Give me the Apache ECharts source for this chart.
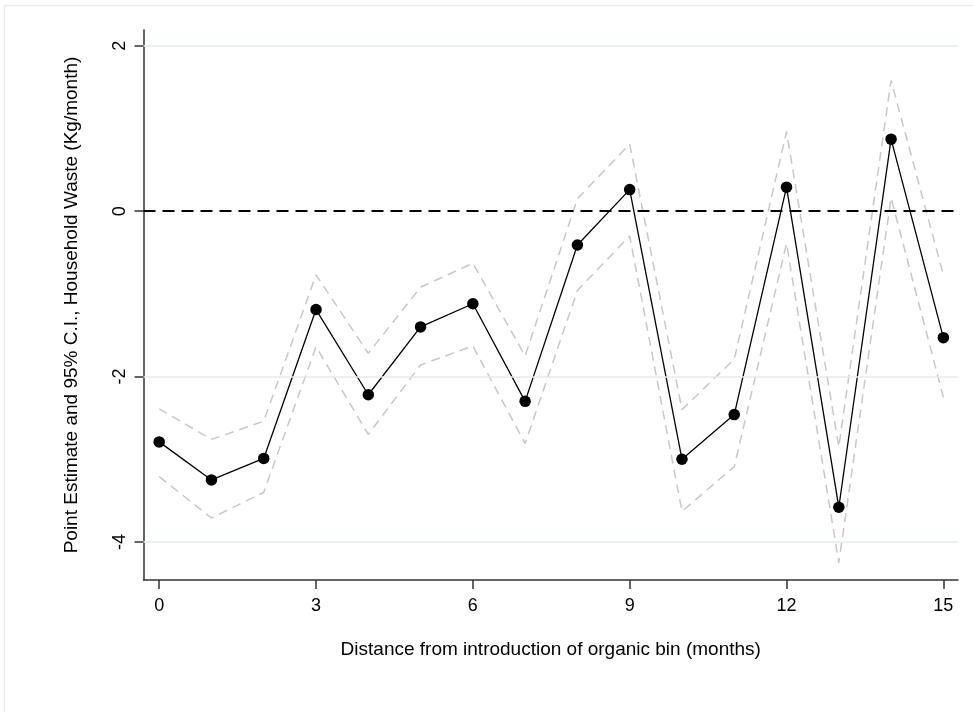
<!DOCTYPE html>
<html>
<head>
<meta charset="utf-8">
<script src="https://cdn.jsdelivr.net/npm/echarts@6/dist/echarts.min.js"></script>
<style>
html,body{margin:0;padding:0;background:#fff;}
#chart{width:973px;height:712px;}
</style>
</head>
<body>
<div id="chart"></div>
<script>
// Data (months since introduction of organic bin)
const months = [0,1,2,3,4,5,6,7,8,9,10,11,12,13,14,15];
const estimate = [-2.79,-3.25,-2.99,-1.19,-2.22,-1.40,-1.12,-2.30,-0.41,0.26,-3.00,-2.46,0.29,-3.58,0.87,-1.53];
const upperCI  = [-2.39,-2.76,-2.54,-0.77,-1.72,-0.92,-0.63,-1.75,0.15,0.81,-2.40,-1.79,0.96,-2.85,1.58,-0.77];
const lowerCI  = [-3.21,-3.71,-3.40,-1.64,-2.70,-1.86,-1.63,-2.81,-0.96,-0.30,-3.63,-3.09,-0.39,-4.25,0.16,-2.25];
const xTicks = [0,3,6,9,12,15];
const yTicks = [-4,-2,0,2];
const gridLines = [-4,-2,2];
const refLine = 0;

const pair = (arr) => months.map((m,i)=>[m,arr[i]]);
const font = '"Liberation Sans", Arial, Helvetica, sans-serif';

const chart = echarts.init(document.getElementById('chart'), null, {renderer:'canvas'});
chart.setOption({
  animation:false,
  backgroundColor:'#ffffff',
  graphic:[{
    type:'rect', silent:true, z:-10,
    shape:{x:4.5,y:5.5,width:1000,height:1000},
    style:{fill:'none',stroke:'#e6edf2',lineWidth:1.5}
  }],
  grid:{left:143.5,right:15,top:30,bottom:132},
  xAxis:{
    type:'value', min:-0.3, max:15.28,
    name:'Distance from introduction of organic bin (months)',
    nameLocation:'middle', nameGap:60,
    nameTextStyle:{fontFamily:font,fontSize:19,color:'#000'},
    axisLine:{show:true,onZero:false,lineStyle:{color:'#333',width:1.5}},
    axisTick:{show:true,length:9,customValues:xTicks,lineStyle:{color:'#333',width:1.5}},
    axisLabel:{customValues:xTicks,margin:17,fontFamily:font,fontSize:18,color:'#000'},
    splitLine:{show:false}
  },
  yAxis:{
    type:'value', min:-4.46, max:2.19,
    name:'Point Estimate and 95% C.I., Household Waste (Kg/month)',
    nameLocation:'middle', nameGap:62, nameRotate:90,
    nameTextStyle:{fontFamily:font,fontSize:19,color:'#000'},
    axisLine:{show:true,onZero:false,lineStyle:{color:'#333',width:1.5}},
    axisTick:{show:true,length:9,customValues:yTicks,lineStyle:{color:'#333',width:1.5}},
    axisLabel:{customValues:yTicks,rotate:90,margin:14,fontFamily:font,fontSize:18,color:'#000'},
    splitLine:{show:false}
  },
  series:[
    {
      type:'line', data:pair(upperCI), symbol:'none', z:2,
      lineStyle:{color:'#c8c8c8',width:1.5,type:[9,6]},
      markLine:{
        silent:true, symbol:'none', label:{show:false},
        lineStyle:{color:'#e2ecef',width:1.5,type:'solid'},
        data:gridLines.map(v=>({yAxis:v}))
      }
    },
    {
      type:'line', data:pair(lowerCI), symbol:'none', z:2,
      lineStyle:{color:'#c8c8c8',width:1.5,type:[9,6]}
    },
    {
      type:'line', data:pair(estimate), z:4,
      symbol:'circle', symbolSize:11.5,
      itemStyle:{color:'#000'},
      lineStyle:{color:'#000',width:1.3},
      markLine:{
        silent:true, symbol:'none', label:{show:false},
        lineStyle:{color:'#000',width:2,type:[12,7]},
        data:[{yAxis:refLine}]
      }
    }
  ]
});
</script>
</body>
</html>
